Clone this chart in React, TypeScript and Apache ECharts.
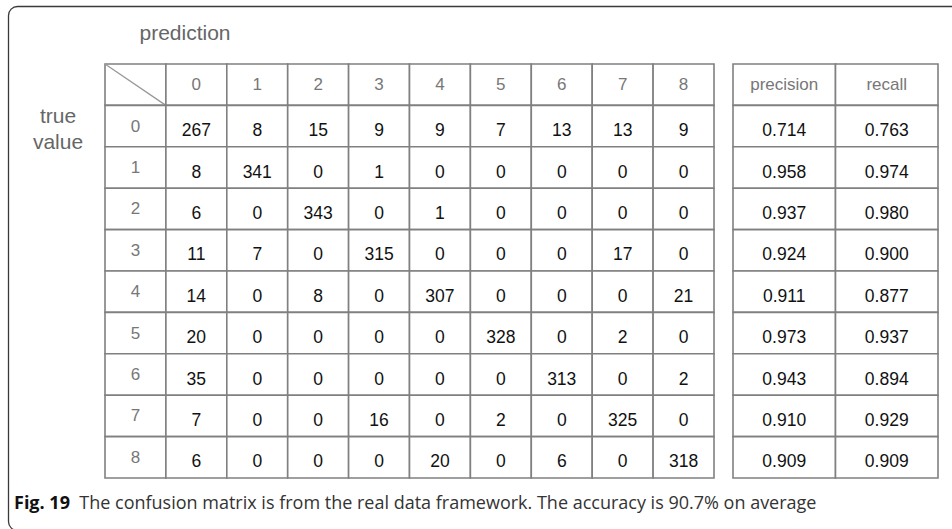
import React, { useEffect, useRef } from "react";
import * as echarts from "echarts";

const predClasses = ["0", "1", "2", "3", "4", "5", "6", "7", "8"];
const trueClasses = ["0", "1", "2", "3", "4", "5", "6", "7", "8"];

const matrix: number[][] = [
  [267, 8, 15, 9, 9, 7, 13, 13, 9],
  [8, 341, 0, 1, 0, 0, 0, 0, 0],
  [6, 0, 343, 0, 1, 0, 0, 0, 0],
  [11, 7, 0, 315, 0, 0, 0, 17, 0],
  [14, 0, 8, 0, 307, 0, 0, 0, 21],
  [20, 0, 0, 0, 0, 328, 0, 2, 0],
  [35, 0, 0, 0, 0, 0, 313, 0, 2],
  [7, 0, 0, 16, 0, 2, 0, 325, 0],
  [6, 0, 0, 0, 20, 0, 6, 0, 318],
];

const metricNames = ["precision", "recall"];
const precision = [0.714, 0.958, 0.937, 0.924, 0.911, 0.973, 0.943, 0.91, 0.909];
const recall = [0.763, 0.974, 0.98, 0.9, 0.877, 0.937, 0.894, 0.929, 0.909];

const axisTitleX = "prediction";
const axisTitleY = "true\nvalue";
const captionBold = "Fig. 19";
const captionText = "The confusion matrix is from the real data framework. The accuracy is 90.7% on average";

const LINE = "#808080";
const HEAD = "#777";
const TABLE_FONT = "Liberation Sans, Arial, sans-serif";

function cellRect(api: any, cx: number, cy: number) {
  const c = api.coord([cx, cy]);
  const s = api.size([1, 1]);
  return { c, s };
}

export default function App() {
  const ref = useRef<HTMLDivElement>(null);

  useEffect(() => {
    if (!ref.current) return;
    const chart = echarts.init(ref.current, undefined, { renderer: "svg" });

    const matrixData: any[] = [];
    matrix.forEach((row, r) =>
      row.forEach((v, c) => matrixData.push([c + 1, r + 1, v]))
    );
    const headerData: any[] = [[0, 0, ""]];
    predClasses.forEach((p, i) => headerData.push([i + 1, 0, p]));
    trueClasses.forEach((t, i) => headerData.push([0, i + 1, t]));

    const metricHeader: any[] = metricNames.map((m, i) => [i, 0, m]);
    const metricData: any[] = [];
    trueClasses.forEach((_, r) => {
      metricData.push([0, r + 1, precision[r].toFixed(3)]);
      metricData.push([1, r + 1, recall[r].toFixed(3)]);
    });

    const lists = [headerData, matrixData, metricHeader, metricData];

    const renderCell = (isHeader: boolean) => (params: any, api: any) => {
      const x = api.value(0);
      const y = api.value(1);
      const { c, s } = cellRect(api, x, y);
      const label = String(lists[params.seriesIndex][params.dataIndex][2]);
      const children: any[] = [
        {
          type: "rect",
          shape: { x: c[0] - s[0] / 2, y: c[1] - s[1] / 2, width: s[0], height: s[1] },
          style: { fill: "#fff", stroke: LINE, lineWidth: 1.6 },
        },
      ];
      if (isHeader && x === 0 && y === 0 && params.seriesIndex === 0) {
        children.push({
          type: "line",
          shape: { x1: c[0] - s[0] / 2, y1: c[1] - s[1] / 2, x2: c[0] + s[0] / 2, y2: c[1] + s[1] / 2 },
          style: { stroke: "#999", lineWidth: 1.3 },
        });
      }
      if (label) {
        children.push({
          type: "text",
          style: {
            text: label,
            x: c[0],
            y: c[1] + (isHeader ? 0 : 4),
            textAlign: "center",
            textVerticalAlign: "middle",
            fontSize: isHeader ? 17 : 17.5,
            fontFamily: TABLE_FONT,
            fill: isHeader ? HEAD : "#111",
          },
        });
      }
      return { type: "group", children };
    };

    const allRows = ["", ...trueClasses];

    chart.setOption({
      animation: false,
      grid: [
        { left: 105, top: 64, width: 609, height: 414 },
        { left: 733, top: 64, width: 205, height: 414 },
      ],
      xAxis: [
        { type: "category", gridIndex: 0, data: ["", ...predClasses], show: false },
        { type: "category", gridIndex: 1, data: metricNames, show: false },
      ],
      yAxis: [
        { type: "category", gridIndex: 0, data: allRows, inverse: true, show: false },
        { type: "category", gridIndex: 1, data: allRows, inverse: true, show: false },
      ],
      series: [
        { type: "custom", xAxisIndex: 0, yAxisIndex: 0, data: headerData, renderItem: renderCell(true), silent: true },
        { type: "custom", xAxisIndex: 0, yAxisIndex: 0, data: matrixData, renderItem: renderCell(false), silent: true },
        { type: "custom", xAxisIndex: 1, yAxisIndex: 1, data: metricHeader, renderItem: renderCell(true), silent: true },
        { type: "custom", xAxisIndex: 1, yAxisIndex: 1, data: metricData, renderItem: renderCell(false), silent: true },
      ],
      graphic: [
        {
          type: "rect",
          shape: { x: 8.5, y: 6.5, width: 990, height: 524, r: 9 },
          style: { fill: "none", stroke: "#3a3a3a", lineWidth: 1.3 },
          silent: true,
        },
        {
          type: "text",
          x: 185,
          y: 32,
          style: {
            text: axisTitleX,
            textAlign: "center",
            textVerticalAlign: "middle",
            fontSize: 21,
            fontFamily: TABLE_FONT,
            fill: "#666",
          },
        },
        {
          type: "text",
          x: 58,
          y: 128,
          style: {
            text: axisTitleY,
            textAlign: "center",
            textVerticalAlign: "middle",
            fontSize: 21,
            lineHeight: 26,
            fontFamily: TABLE_FONT,
            fill: "#666",
          },
        },
        {
          type: "text",
          x: 14,
          y: 502,
          style: {
            text: "{b|" + captionBold + "}  " + captionText,
            textVerticalAlign: "middle",
            fontSize: 18,
            fontFamily: "Open Sans, Noto Sans, sans-serif",
            fill: "#333",
            rich: {
              b: { fontWeight: "bold", fontSize: 18, fontFamily: "Open Sans, Noto Sans, sans-serif", fill: "#111" },
            },
          },
        },
      ],
    });

    return () => chart.dispose();
  }, []);

  return (
    <div
      ref={ref}
      style={{ position: "fixed", left: 0, top: 0, width: 952, height: 529, background: "#fff" }}
    />
  );
}
